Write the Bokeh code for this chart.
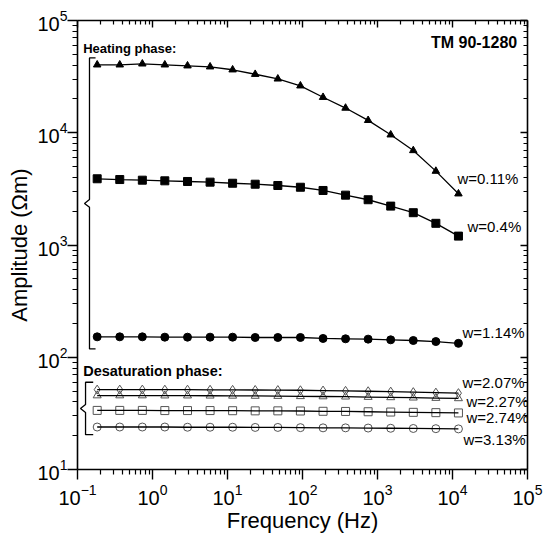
from bokeh.plotting import figure
from bokeh.models import LogAxis, FixedTicker, Label
from bokeh.embed import file_html
from bokeh.resources import INLINE

# ---- data ----
freq = [0.183, 0.366, 0.732, 1.46, 2.93, 5.86, 11.7, 23.4, 46.9, 93.8,
        188, 375, 750, 1500, 3000, 6000, 12000]
w011 = [40300, 40300, 41100, 40300, 39500, 38700, 36400, 33200, 30200, 26200,
        20700, 16600, 12900, 9590, 6950, 4550, 2860]
w04 = [3890, 3830, 3780, 3730, 3680, 3630, 3550, 3480, 3390, 3270,
       3060, 2780, 2530, 2220, 1940, 1560, 1200]
w114 = [152, 152, 152, 151, 151, 151, 151, 150, 150, 150,
        147, 146, 145, 143, 141, 138, 133]
w207 = [51.5, 51.5, 51.5, 51.4, 51.4, 51.3, 51.2, 51.1, 51.0, 50.8,
        50.5, 50.2, 49.8, 49.4, 48.9, 48.4, 47.9]
w227 = [45.6, 45.6, 45.6, 45.5, 45.5, 45.4, 45.3, 45.2, 45.1, 44.9,
        44.7, 44.5, 44.2, 43.9, 43.6, 43.3, 43.0]
w274 = [33.6, 33.6, 33.6, 33.5, 33.5, 33.5, 33.4, 33.3, 33.3, 33.2,
        33.0, 32.9, 32.7, 32.5, 32.3, 32.1, 31.9]
w313 = [23.9, 23.9, 23.9, 23.9, 23.8, 23.8, 23.8, 23.7, 23.7, 23.6,
        23.5, 23.5, 23.4, 23.3, 23.2, 23.1, 23.0]
labels = ["w=0.11%", "w=0.4%", "w=1.14%", "w=2.07%", "w=2.27%", "w=2.74%", "w=3.13%"]

FONT = "Liberation Sans"

p = figure(width=544, height=536, x_axis_type="log", y_axis_type="log",
           x_range=(0.1, 1e5), y_range=(10, 1e5),
           output_backend="svg", toolbar_location=None,
           min_border_left=77, min_border_right=17, min_border_top=20, min_border_bottom=67)
p.grid.visible = False
p.outline_line_color = None

xmaj = [10.0 ** k for k in range(-1, 6)]
xmin = [m * 10.0 ** k for k in range(-1, 5) for m in range(2, 10)]
ymaj = [10.0 ** k for k in range(1, 6)]
ymin = [m * 10.0 ** k for k in range(1, 5) for m in range(2, 10)]

def style(ax, outward, labels_on, lab_standoff=0, ax_standoff=0):
    ax.axis_line_width = 1.6
    ax.axis_line_color = "black"
    ax.major_tick_line_width = 1.4
    ax.minor_tick_line_width = 1.2
    if outward:
        ax.major_tick_out, ax.major_tick_in = 10, 0
        ax.minor_tick_out, ax.minor_tick_in = 5, 0
    else:
        ax.major_tick_out, ax.major_tick_in = 0, 7
        ax.minor_tick_out, ax.minor_tick_in = 0, 4
    if labels_on:
        ax.major_label_text_font = FONT
        ax.major_label_text_font_size = "20px"
        ax.major_label_text_color = "black"
        ax.major_label_standoff = lab_standoff
        ax.axis_label_text_font = FONT
        ax.axis_label_text_font_size = "22px"
        ax.axis_label_text_font_style = "normal"
        ax.axis_label_text_color = "black"
        ax.axis_label_standoff = ax_standoff
    else:
        ax.major_label_text_font_size = "1px"
        ax.major_label_text_color = None
        ax.major_label_standoff = 0

xb = p.xaxis[0]
xb.ticker = FixedTicker(ticks=xmaj, minor_ticks=xmin)
xb.axis_label = "Frequency (Hz)"
style(xb, True, True, 4, 0)
yl = p.yaxis[0]
yl.ticker = FixedTicker(ticks=ymaj, minor_ticks=ymin)
yl.axis_label = "Amplitude (\u03a9m)"
style(yl, True, True, 0, 2)

xt = LogAxis(ticker=FixedTicker(ticks=xmaj, minor_ticks=xmin))
style(xt, False, False)
p.add_layout(xt, "above")
yr = LogAxis(ticker=FixedTicker(ticks=ymaj, minor_ticks=ymin))
style(yr, False, False)
p.add_layout(yr, "right")

# heating phase: filled markers
p.line(freq, w011, line_color="black", line_width=1.3)
p.scatter(freq, w011, marker="triangle", size=7.5, color="black")
p.line(freq, w04, line_color="black", line_width=1.3)
p.scatter(freq, w04, marker="square", size=8, color="black")
p.line(freq, w114, line_color="black", line_width=1.3)
p.scatter(freq, w114, marker="circle", size=8, color="black")

# desaturation phase: open markers
GRAY = "#555555"
for ser, mk, sz in [(w207, "diamond", 9), (w227, "triangle", 8),
                    (w274, "square", 8), (w313, "circle", 8)]:
    p.scatter(freq, ser, marker=mk, size=sz, fill_color=None, line_color=GRAY, line_width=1)
    p.line(freq, ser, line_color="black", line_width=1.3)

# series labels, anchored at the last point of each series
series = [w011, w04, w114, w207, w227, w274, w313]
offs = [(-1, 15), (9, 10), (4, 11), (4, 11), (8, -3), (8, -5), (5, -11)]
for ser, lab, (dx, dy) in zip(series, labels, offs):
    p.add_layout(Label(x=freq[-1], y=ser[-1], x_offset=dx, y_offset=dy, text=lab,
                       text_font=FONT, text_font_size="15px", text_color="black",
                       text_baseline="middle", text_align="left"))

# brackets
def bracket(top, bot, xv, xs, xn, notch=10 ** 0.035):
    mid = (top * bot) ** 0.5
    xsq = [xs, xv, xv, xn, xv, xv, xs]
    ysq = [top, top, mid * notch, mid, mid / notch, bot, bot]
    p.line(xsq, ysq, line_color="black", line_width=1.3)

bracket(max(w011) * 1.13, w114[0] * 0.78, 0.1445, 0.174, 0.124)
bracket(w207[0] * 1.163, w313[0] * 0.854, 0.128, 0.162, 0.1096)

p.add_layout(Label(x=0.119, y=56600, text="Heating phase:", text_font=FONT,
                   text_font_size="13px", text_font_style="bold",
                   text_baseline="middle", text_align="left", text_color="black"))
p.add_layout(Label(x=0.119, y=75.1, text="Desaturation phase:", text_font=FONT,
                   text_font_size="14.5px", text_font_style="bold",
                   text_baseline="middle", text_align="left", text_color="black"))
p.add_layout(Label(x=72900, y=64100, text="TM 90-1280", text_font=FONT,
                   text_font_size="16px", text_font_style="bold",
                   text_baseline="middle", text_align="right", text_color="black"))

open("out.html", "w").write(file_html(p, INLINE))
